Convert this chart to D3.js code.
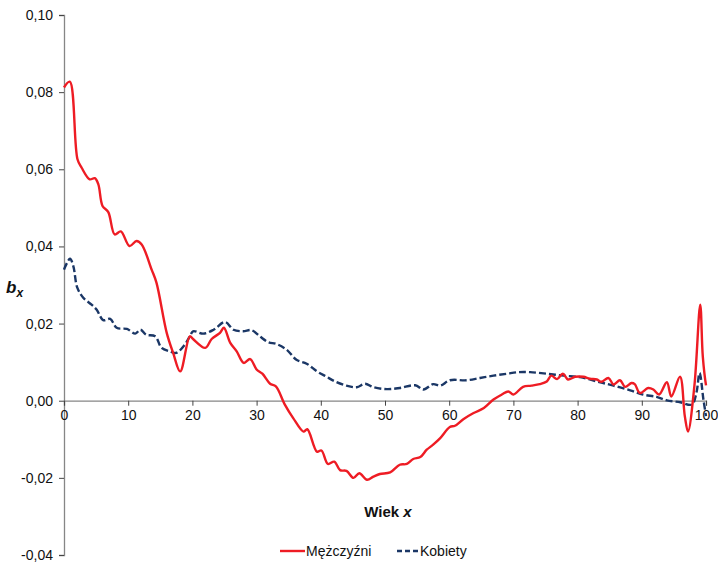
<!DOCTYPE html>
<html>
<head>
<meta charset="utf-8">
<script src="https://cdn.jsdelivr.net/npm/d3@7"></script>
<style>
  html, body { margin: 0; padding: 0; background: #fff; }
  svg { display: block; font-family: "Liberation Sans", Arial, sans-serif; }
</style>
</head>
<body>
<svg id="chart" width="718" height="562"></svg>
<script>
// b_x coefficients by age – men
const menAge = [0, 0.9, 2.1, 2.75, 4.0, 4.8, 5.35, 6.0, 6.9, 7.9, 8.85, 10.2, 11.3, 12.1, 13.65, 14.4, 16.0, 17.0, 18.1, 19.6,
  20.1, 22.0, 23.0, 24.3, 24.9, 25.9, 26.9, 28.0, 29.0, 30.0, 30.9, 32.1, 33.0, 34.4, 35.7, 37.3, 37.9, 39.4, 40.1,
  41.1, 42.1, 43.0, 44.0, 45.1, 46.0, 47.2, 48.2, 49.2, 50.8, 52.3, 53.4, 54.4, 55.5, 56.5, 57.5, 58.6, 60.1, 60.9,
  62.2, 63.8, 65.4, 66.9, 68.2, 69.2, 70.0, 71.5, 72.8, 74.1, 75.2, 75.9, 76.8, 77.7, 78.5, 79.6, 80.9, 81.9, 83.0,
  83.7, 84.8, 85.6, 86.6, 87.4, 88.4, 88.9, 89.7, 91.0, 91.8, 92.7, 93.9, 94.6, 95.95, 96.7, 97.2, 98.2, 99.1, 99.5, 100];
const menBx = [0.0812, 0.0827, 0.0626, 0.0604, 0.0574, 0.0577, 0.0561, 0.0505, 0.0489, 0.0431, 0.0439, 0.0401, 0.0414, 0.0405, 0.0340, 0.0306, 0.0176, 0.0124, 0.0076, 0.0167,
  0.0160, 0.0137, 0.0160, 0.0176, 0.0189, 0.0150, 0.0128, 0.0098, 0.0108, 0.0081, 0.0070, 0.0044, 0.0037, -0.0010, -0.0045, -0.0080, -0.0074, -0.0132, -0.0129,
  -0.0164, -0.0158, -0.0180, -0.0182, -0.0200, -0.0188, -0.0205, -0.0197, -0.0190, -0.0186, -0.0166, -0.0164, -0.0151, -0.0146, -0.0127, -0.0114, -0.0097, -0.0068, -0.0065,
  -0.0048, -0.0032, -0.0019, 0.0003, 0.0016, 0.0024, 0.0016, 0.0036, 0.0039, 0.0043, 0.0050, 0.0065, 0.0056, 0.0070, 0.0055, 0.0062, 0.0062, 0.0057, 0.0055,
  0.0049, 0.0059, 0.0042, 0.0053, 0.0036, 0.0046, 0.0043, 0.0020, 0.0033, 0.0029, 0.0016, 0.0048, 0.0011, 0.0062, -0.0040, -0.0080, 0.0040, 0.0249, 0.0115, 0.0040];

// b_x coefficients by age – women
const womenAge = [0, 0.93, 1.45, 2.07, 3.0, 4.3, 5.1, 6.1, 7.2, 8.2, 9.8, 11.1, 11.9, 12.8, 14.2, 15.2, 16.5, 17.5, 18.8, 19.6,
  20.1, 21.7, 23.3, 25.1, 26.4, 27.9, 29.2, 30.5, 31.8, 33.1, 34.7, 36.2, 37.8, 39.4, 40.9, 42.2, 44.0, 45.6, 46.9, 48.2,
  50.3, 52.3, 54.7, 56.0, 57.5, 58.6, 60.1, 62.7, 64.8, 66.9, 69.0, 70.8, 72.6, 75.2, 77.8, 80.4, 83.0, 85.6, 88.2, 90.2,
  92.3, 93.9, 96.0, 97.8, 98.5, 99.0, 99.6, 100];
const womenBx = [0.0340, 0.0368, 0.0349, 0.0293, 0.0267, 0.0249, 0.0236, 0.0209, 0.0212, 0.0189, 0.0186, 0.0174, 0.0184, 0.0171, 0.0167, 0.0137, 0.0128, 0.0124, 0.0145, 0.0167,
  0.0180, 0.0174, 0.0184, 0.0204, 0.0184, 0.0180, 0.0183, 0.0167, 0.0152, 0.0147, 0.0132, 0.0106, 0.0096, 0.0076, 0.0062, 0.0050, 0.0039, 0.0035, 0.0044, 0.0035,
  0.0030, 0.0033, 0.0040, 0.0029, 0.0043, 0.0039, 0.0053, 0.0053, 0.0059, 0.0065, 0.0070, 0.0074, 0.0074, 0.0070, 0.0065, 0.0061, 0.0050, 0.0039, 0.0027, 0.0016,
  0.0010, 0.0001, -0.0004, -0.0010, 0.0020, 0.0072, 0.0003, -0.0040];

const xTicks = [0, 10, 20, 30, 40, 50, 60, 70, 80, 90, 100];
const yTicks = [-0.04, -0.02, 0.00, 0.02, 0.04, 0.06, 0.08, 0.10];

const seriesNames = ["Mężczyźni", "Kobiety"];
const seriesColors = ["#ee1c24", "#1b3766"];

const svg = d3.select("#chart");
const x = d3.scaleLinear().domain([0, 100]).range([64, 706]);
const y = d3.scaleLinear().domain([-0.04, 0.10]).range([555, 15]);
const fmt = v => d3.format(".2f")(v).replace(".", ",").replace("−", "-");

// y axis
const yAxis = d3.axisLeft(y).tickValues(yTicks).tickSize(5).tickPadding(6).tickFormat(fmt);
const gy = svg.append("g").attr("transform", `translate(${x(0)},0)`).call(yAxis);
gy.select(".domain").attr("stroke", "#868686").attr("stroke-width", 1.3);
gy.selectAll(".tick line").attr("stroke", "#444");
gy.selectAll("text").attr("font-size", 14).attr("fill", "#111")
  .attr("font-family", "Liberation Sans, Arial, sans-serif");

// x axis along zero
const xAxis = d3.axisBottom(x).tickValues(xTicks).tickSize(5).tickPadding(4).tickFormat(d3.format("d"));
const gx = svg.append("g").attr("transform", `translate(0,${y(0)})`).call(xAxis);
gx.select(".domain").attr("stroke", "#868686").attr("stroke-width", 1.3);
gx.selectAll(".tick line").attr("stroke", "#444");
gx.selectAll("text").attr("font-size", 14).attr("fill", "#111")
  .attr("font-family", "Liberation Sans, Arial, sans-serif");

// series lines
const line = d3.line().x(d => x(d[0])).y(d => y(d[1])).curve(d3.curveCatmullRom.alpha(0.5));
const menData = menAge.map((a, i) => [a, menBx[i]]);
const womenData = womenAge.map((a, i) => [a, womenBx[i]]);

svg.append("path").datum(womenData)
  .attr("d", line).attr("fill", "none")
  .attr("stroke", seriesColors[1]).attr("stroke-width", 2.4)
  .attr("stroke-dasharray", "7,3");

svg.append("path").datum(menData)
  .attr("d", line).attr("fill", "none")
  .attr("stroke", seriesColors[0]).attr("stroke-width", 2.4);

// axis titles
const yt = svg.append("text").attr("x", 6).attr("y", 293)
  .attr("font-weight", "bold").attr("font-style", "italic").attr("font-size", 17).attr("fill", "#111");
yt.append("tspan").text("b");
yt.append("tspan").attr("font-size", 12).attr("dy", 4).text("x");

const xt = svg.append("text").attr("x", 388).attr("y", 517).attr("text-anchor", "middle")
  .attr("font-weight", "bold").attr("font-size", 15).attr("fill", "#111");
xt.append("tspan").text("Wiek ");
xt.append("tspan").attr("font-style", "italic").text("x");

// legend
const legend = svg.append("g");
legend.append("line").attr("x1", 280).attr("x2", 305).attr("y1", 551).attr("y2", 551)
  .attr("stroke", seriesColors[0]).attr("stroke-width", 2.4);
legend.append("text").attr("x", 306).attr("y", 556).attr("font-size", 14).attr("fill", "#111").text(seriesNames[0]);
legend.append("line").attr("x1", 397).attr("x2", 418).attr("y1", 551).attr("y2", 551)
  .attr("stroke", seriesColors[1]).attr("stroke-width", 2.4).attr("stroke-dasharray", "5,3");
legend.append("text").attr("x", 420).attr("y", 556).attr("font-size", 14).attr("fill", "#111").text(seriesNames[1]);
</script>
</body>
</html>
